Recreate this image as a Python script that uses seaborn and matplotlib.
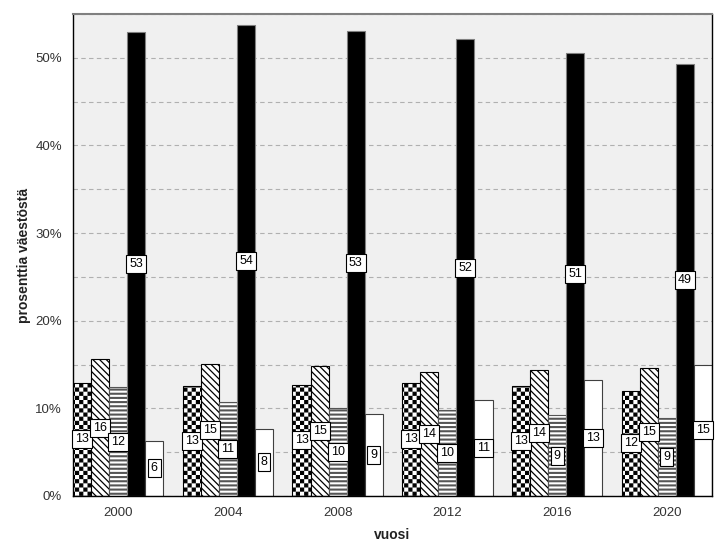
import warnings
import numpy as np
import pandas as pd
import seaborn as sns
import matplotlib.pyplot as plt
import matplotlib.hatch as mhatch
from matplotlib.path import Path
from matplotlib.ticker import MultipleLocator, PercentFormatter

warnings.filterwarnings('ignore')

# Data (percent of population)
vuodet = ['2000', '2004', '2008', '2012', '2016', '2020']
sarjat = ['ruudut', 'vinoviivat', 'vaakaviivat', 'musta', 'valkoinen']
ruudut = [12.9, 12.6, 12.7, 12.9, 12.6, 12.0]
vinoviivat = [15.6, 15.1, 14.8, 14.1, 14.4, 14.6]
vaakaviivat = [12.4, 10.7, 10.0, 9.8, 9.2, 8.9]
musta = [52.9, 53.7, 53.1, 52.1, 50.6, 49.3]
valkoinen = [6.3, 7.7, 9.4, 10.9, 13.2, 15.0]

HATCH_LW = 0.8
plt.rcParams['hatch.linewidth'] = HATCH_LW


# checkerboard hatch for the first series ('c' in the hatch string)
class Ruudukko(mhatch.HatchPatternBase):
    def __init__(self, hatch, density):
        self.n = int(hatch.count('c') * density)
        self.num_vertices = (self.n * self.n // 2) * 5

    def set_vertices_and_codes(self, vertices, codes):
        s = 1.0 / self.n
        d = HATCH_LW / 144.0  # shrink so the stroke keeps squares at size s
        k = 0
        for i in range(self.n):
            for j in range(self.n):
                if (i + j) % 2:
                    continue
                x, y = j * s + d, i * s + d
                w = s - 2 * d
                vertices[k:k + 5] = [(x, y), (x + w, y), (x + w, y + w), (x, y + w), (x, y)]
                codes[k:k + 5] = [Path.MOVETO, Path.LINETO, Path.LINETO,
                                  Path.LINETO, Path.CLOSEPOLY]
                k += 5


mhatch._hatch_types.append(Ruudukko)

wide = pd.DataFrame({'vuosi': vuodet, 'ruudut': ruudut, 'vinoviivat': vinoviivat,
                     'vaakaviivat': vaakaviivat, 'musta': musta, 'valkoinen': valkoinen})
df = wide.melt(id_vars='vuosi', var_name='sarja', value_name='prosentti')

sns.set_theme(style='white')
plt.rcParams['font.family'] = ['Liberation Sans', 'DejaVu Sans']

fig = plt.figure(figsize=(7.27, 5.58), dpi=100)
ax = fig.add_axes([73 / 727, 62 / 558, 639 / 727, 482 / 558])
ax.set_facecolor('#f0f0f0')

sns.barplot(data=df, x='vuosi', y='prosentti', hue='sarja', hue_order=sarjat,
            width=0.823, errorbar=None, legend=False, ax=ax,
            palette={s: 'white' for s in sarjat})

tyylit = {
    'ruudut': dict(fc='white', hatch='cccc', ec='black', hlw=HATCH_LW),
    'vinoviivat': dict(fc='white', hatch='\\\\\\\\\\', ec='black', hlw=0.9),
    'vaakaviivat': dict(fc='white', hatch='----', ec='#555555', hlw=1.5),
    'musta': dict(fc='black', hatch=None, ec='#808080', hlw=HATCH_LW),
    'valkoinen': dict(fc='white', hatch=None, ec='#404040', hlw=HATCH_LW),
}

for sarja, cont in zip(sarjat, ax.containers):
    t = tyylit[sarja]
    for bar in cont:
        bar.set_facecolor(t['fc'])
        bar.set_edgecolor(t['ec'])
        bar.set_linewidth(0.8)
        bar.set_hatch(t['hatch'])
        bar._hatch_linewidth = t['hlw']
    ax.bar_label(cont, fmt='%.0f', label_type='center', fontsize=9, color='black',
                 bbox=dict(boxstyle='square,pad=0.24', fc='white', ec='black', lw=0.8))

ax.set_xlim(-0.4115, 5.4115)
ax.set_ylim(0, 55)
ax.yaxis.set_major_locator(MultipleLocator(10))
ax.yaxis.set_minor_locator(MultipleLocator(5))
ax.yaxis.set_major_formatter(PercentFormatter(decimals=0))
ax.set_axisbelow(True)
ax.grid(axis='y', which='both', color='#b0b0b0', linestyle=(0, (4, 3)), linewidth=0.8)
ax.grid(axis='x', visible=False)

ax.tick_params(axis='both', which='major', direction='out', length=6, width=1,
               color='black', labelsize=9.5, labelcolor='#333333', pad=2)
ax.tick_params(axis='y', which='minor', length=0)

ax.set_xlabel('vuosi', fontsize=10, fontweight='bold', color='#222222')
ax.set_ylabel('prosenttia väestöstä', fontsize=10, fontweight='bold', color='#222222')
ax.yaxis.set_label_coords(-0.066, 0.5)
ax.xaxis.set_label_coords(0.5, -0.066)

for side in ['left', 'bottom', 'right']:
    ax.spines[side].set_color('black')
    ax.spines[side].set_linewidth(1)
ax.spines['top'].set_color('#808080')
ax.spines['top'].set_linewidth(1.5)

fig.savefig('out.png', dpi=100)
